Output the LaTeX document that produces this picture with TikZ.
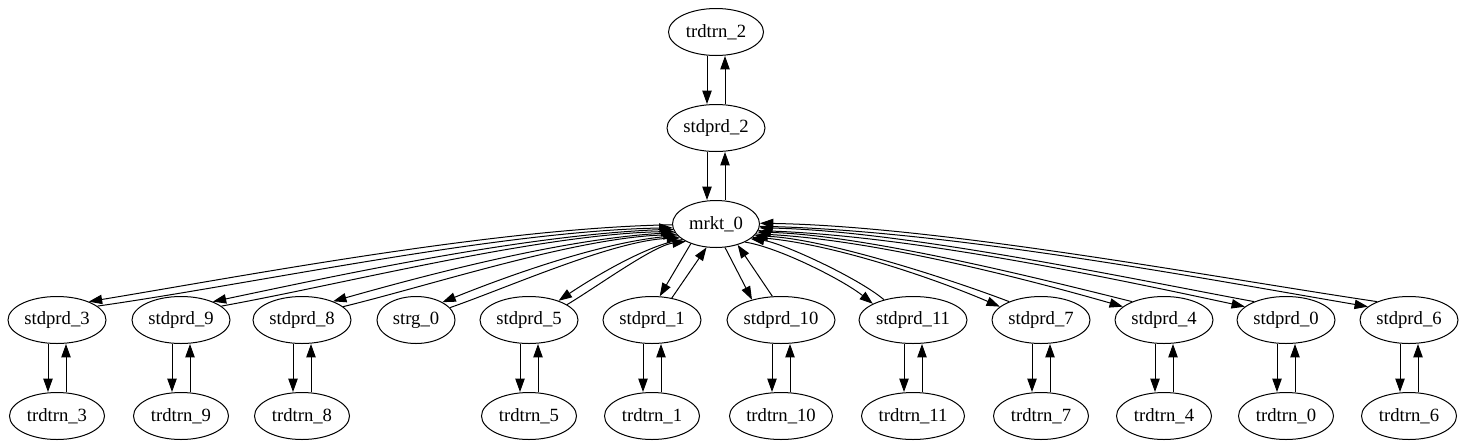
\documentclass[tikz,border=0pt]{standalone}
\usepackage{fontspec}
\setmainfont{Liberation Serif}
\usetikzlibrary{arrows.meta,shapes.geometric}
\begin{document}
\begin{tikzpicture}[x=0.75pt,y=-0.75pt,
  nd/.style={draw, ellipse, inner sep=0pt, minimum height=35.25pt, line width=0.75pt, font=\fontsize{14}{16}\selectfont},
  sp/.style={nd, minimum width=73.5pt},
  spw/.style={nd, minimum width=81pt},
  tt/.style={nd, minimum width=71.25pt},
  ttw/.style={nd, minimum width=77.25pt},
  e/.style={line width=0.75pt, -{Triangle[length=10pt,width=7pt]}}]
\useasboundingbox (0,0) rectangle (1466,447);
% top column
\node[tt] (t2) at (716,32) {trdtrn\_2};
\node[sp] (s2) at (716,128) {stdprd\_2};
\node[nd, minimum width=65.25pt] (m) at (716,224) {mrkt\_0};
% stdprd row
\node[sp]  (s3)  at (57,320)   {stdprd\_3};
\node[sp]  (s9)  at (181,320)  {stdprd\_9};
\node[sp]  (s8)  at (302,320)  {stdprd\_8};
\node[nd, minimum width=58.5pt] (g) at (416,320) {strg\_0};
\node[sp]  (s5)  at (529,320)  {stdprd\_5};
\node[sp]  (s1)  at (652,320)  {stdprd\_1};
\node[spw] (s10) at (781,320)  {stdprd\_10};
\node[spw] (s11) at (913,320)  {stdprd\_11};
\node[sp]  (s7)  at (1041,320) {stdprd\_7};
\node[sp]  (s4)  at (1164,320) {stdprd\_4};
\node[sp]  (s0)  at (1286,320) {stdprd\_0};
\node[sp]  (s6)  at (1409,320) {stdprd\_6};
% trdtrn row
\node[tt]  (t3)  at (57,416)   {trdtrn\_3};
\node[tt]  (t9)  at (181,416)  {trdtrn\_9};
\node[tt]  (t8)  at (302,416)  {trdtrn\_8};
\node[tt]  (t5)  at (529,416)  {trdtrn\_5};
\node[tt]  (t1)  at (652,416)  {trdtrn\_1};
\node[ttw] (t10) at (781,416)  {trdtrn\_10};
\node[ttw] (t11) at (913,416)  {trdtrn\_11};
\node[tt]  (t7)  at (1041,416) {trdtrn\_7};
\node[tt]  (t4)  at (1164,416) {trdtrn\_4};
\node[tt]  (t0)  at (1286,416) {trdtrn\_0};
\node[tt]  (t6)  at (1409,416) {trdtrn\_6};
% vertical pairs
\foreach \a/\b in {t2/s2, s2/m, s3/t3, s9/t9, s8/t8, s5/t5, s1/t1, s10/t10, s11/t11, s7/t7, s4/t4, s0/t0, s6/t6}{
  \draw[e] ([xshift=-6.75pt]\a.south) -- ([xshift=-6.75pt]\b.north);
  \draw[e] ([xshift=6.75pt]\b.north) -- ([xshift=6.75pt]\a.south);
}
% left fan
\draw[e] (m.181) .. controls +(-175,3) and +(157,-26) .. (s3.30);
\draw[e] (s3.19) .. controls +(155,-22) and +(-172,3) .. (m.185);
\draw[e] (m.187) .. controls +(-138,3) and +(124,-26) .. (s9.30);
\draw[e] (s9.19) .. controls +(122,-22) and +(-136,3) .. (m.190);
\draw[e] (m.192) .. controls +(-102,3) and +(92,-26) .. (s8.31);
\draw[e] (s8.18) .. controls +(90,-22) and +(-100,3) .. (m.195);
\draw[e] (m.197) .. controls +(-69,3) and +(62,-25) .. (g.34);
\draw[e] (g.20) .. controls +(60,-21) and +(-67,3) .. (m.201);
\draw[e] (m.205) .. controls +(-34,4) and +(31,-21) .. (s5.33);
\draw[e] (s5.22) .. controls +(30,-18) and +(-32,4) .. (m.210);
\draw[e] (m.218) -- (s1.72);
\draw[e] (s1.48) -- (m.248);
% right fan
\draw[e] (m.291) -- (s10.145);
\draw[e] (s10.110) -- (m.316);
\draw[e] (m.328) .. controls +(33,5) and +(-30,-24) .. (s11.158);
\draw[e] (s11.145) .. controls +(-26,-22) and +(31,4) .. (m.337);
\draw[e] (m.340) .. controls +(72,3) and +(-65,-28) .. (s7.162);
\draw[e] (s7.150) .. controls +(-63,-24) and +(70,3) .. (m.343);
\draw[e] (m.346) .. controls +(109,3) and +(-98,-28) .. (s4.162);
\draw[e] (s4.150) .. controls +(-96,-24) and +(107,3) .. (m.349);
\draw[e] (m.351) .. controls +(146,3) and +(-131,-28) .. (s0.162);
\draw[e] (s0.150) .. controls +(-129,-24) and +(144,3) .. (m.355);
\draw[e] (m.357) .. controls +(183,3) and +(-164,-28) .. (s6.162);
\draw[e] (s6.150) .. controls +(-162,-24) and +(181,3) .. (m.1);
\end{tikzpicture}
\end{document}
